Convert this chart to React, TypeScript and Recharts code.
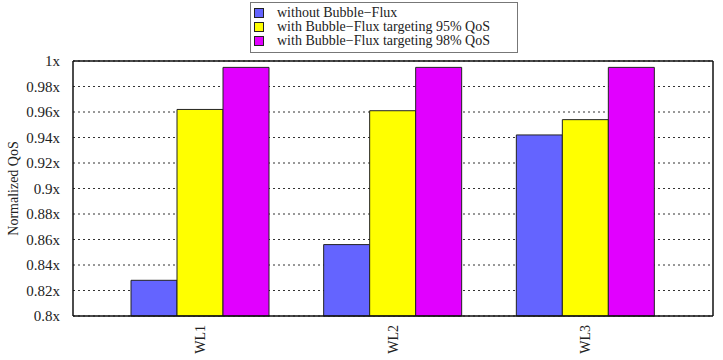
import React from "react";
import { BarChart, Bar, XAxis, YAxis, CartesianGrid } from "recharts";

const workloads = ["WL1", "WL2", "WL3"];
const withoutFlux = [0.828, 0.856, 0.942];
const flux95 = [0.962, 0.961, 0.954];
const flux98 = [0.995, 0.995, 0.995];
const yTicks = [0.8, 0.82, 0.84, 0.86, 0.88, 0.9, 0.92, 0.94, 0.96, 0.98, 1];

const series = [
  { key: "without", name: "without Bubble\u2212Flux", color: "#6464ff" },
  { key: "q95", name: "with Bubble\u2212Flux targeting 95% QoS", color: "#ffff00" },
  { key: "q98", name: "with Bubble\u2212Flux targeting 98% QoS", color: "#e100ff" },
];

const data = workloads.map((wl, i) => ({
  name: wl,
  without: withoutFlux[i],
  q95: flux95[i],
  q98: flux98[i],
}));

const FONT = "'Liberation Serif', serif";

const fmt = (v: number) => `${Number(v.toFixed(2))}x`;

const XTick = (props: any) => {
  const { x, y, payload } = props;
  return (
    <text
      x={x}
      y={y + 1}
      transform={`rotate(-90 ${x} ${y + 1})`}
      textAnchor="end"
      dominantBaseline="central"
      style={{ fontFamily: FONT }}
      fontSize={14}
      fill="#222"
    >
      {payload.value}
    </text>
  );
};

// key box sits above the plot, outside the chart layout
const LegendBox = () => (
  <div
    style={{
      position: "absolute",
      left: 250,
      top: 2,
      width: 268,
      height: 51,
      boxSizing: "border-box",
      border: "1.5px solid #777",
      padding: "3px 6px 0 3px",
      background: "#fff",
      fontFamily: FONT,
      fontSize: 14,
      color: "#222",
      lineHeight: "14px",
    }}
  >
    {series.map((s) => (
      <div key={s.key} style={{ display: "flex", alignItems: "center", height: 14 }}>
        <span
          style={{
            display: "inline-block",
            width: 8,
            height: 8,
            background: s.color,
            border: "1px solid #222",
            marginRight: 13,
          }}
        />
        {s.name}
      </div>
    ))}
  </div>
);

export default function App() {
  return (
    <div style={{ position: "absolute", left: 0, top: 0, width: 723, height: 360, background: "#fff" }}>
      <BarChart
        width={723}
        height={360}
        data={data}
        margin={{ top: 61, right: 10, left: 0, bottom: 0 }}
        barGap={0}
        barSize={46}
      >
        <CartesianGrid
          horizontal
          vertical={false}
          stroke="#333"
          strokeDasharray="2 3"
        />
        <XAxis
          xAxisId="bottom"
          dataKey="name"
          height={44}
          padding={{ left: 31, right: 31 }}
          axisLine={{ stroke: "#111", strokeWidth: 1.5 }}
          tickLine={false}
          tick={<XTick />}
          interval={0}
        />
        <XAxis
          xAxisId="top"
          orientation="top"
          dataKey="name"
          height={1}
          padding={{ left: 31, right: 31 }}
          mirror
          tick={false}
          tickSize={6}
          interval={0}
          axisLine={{ stroke: "#111", strokeWidth: 1.5 }}
          tickLine={{ stroke: "#111" }}
        />
        <YAxis
          width={73}
          domain={[0.8, 1]}
          ticks={yTicks}
          interval={0}
          tickFormatter={fmt}
          axisLine={{ stroke: "#111", strokeWidth: 1.5 }}
          tickLine={false}
          tick={{ fontFamily: FONT, fontSize: 15, fill: "#222" }}
          tickMargin={7}
          label={{
            value: "Normalized QoS",
            angle: -90,
            position: "insideLeft",
            dx: 8,
            style: { fontFamily: FONT, fontSize: 14, fill: "#222", textAnchor: "middle" },
          }}
        />
        <YAxis
          yAxisId="right"
          orientation="right"
          width={1}
          domain={[0.8, 1]}
          ticks={yTicks}
          interval={0}
          mirror
          tick={false}
          axisLine={{ stroke: "#111", strokeWidth: 1.5 }}
          tickLine={{ stroke: "#111" }}
          tickSize={6}
        />
        {series.map((s) => (
          <Bar
            key={s.key}
            xAxisId="bottom"
            dataKey={s.key}
            name={s.name}
            fill={s.color}
            stroke="#222"
            strokeWidth={1}
            isAnimationActive={false}
          />
        ))}
      </BarChart>
      <LegendBox />
    </div>
  );
}
